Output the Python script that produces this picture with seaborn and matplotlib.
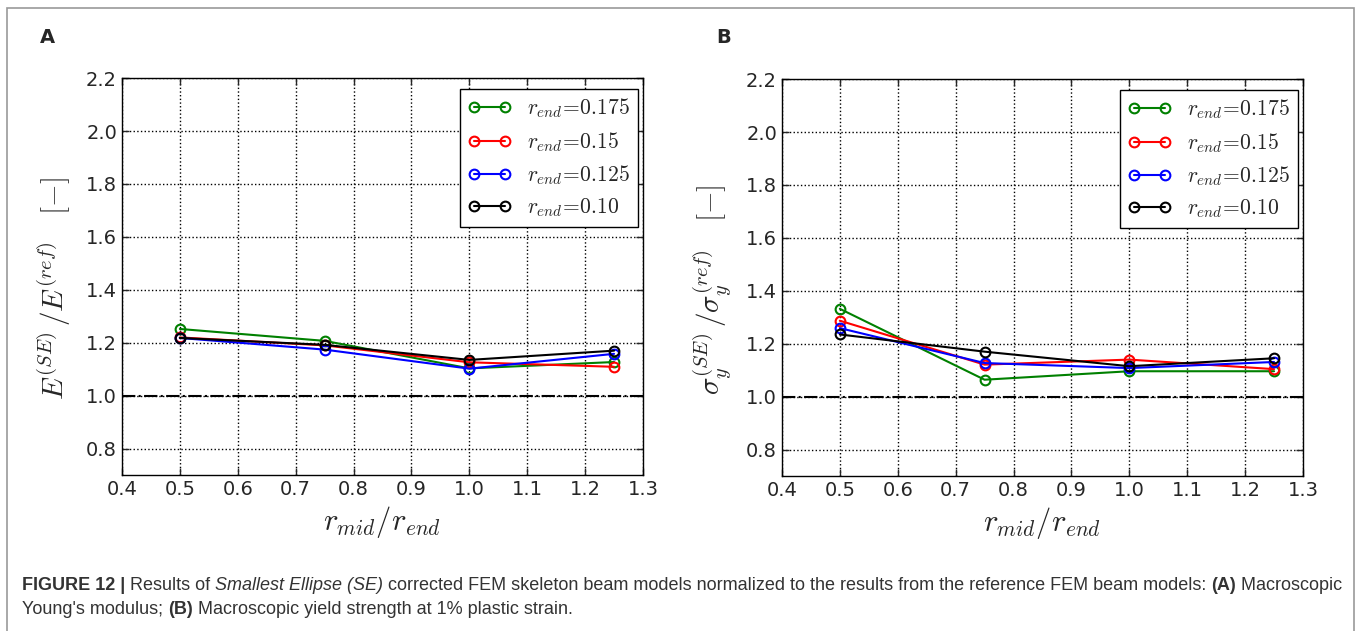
import seaborn as sns
import matplotlib.pyplot as plt
import matplotlib.patches as mpatches
import pandas as pd

sns.set_style('ticks')
plt.rcParams['font.family'] = ['DejaVu Sans']
plt.rcParams['mathtext.fontset'] = 'cm'

# data
r_ratio = [0.5, 0.75, 1.0, 1.25]
series_names = [r'$r_{end}\!=\!0.175$', r'$r_{end}\!=\!0.15$',
                r'$r_{end}\!=\!0.125$', r'$r_{end}\!=\!0.10$']
series_colors = ['green', 'red', 'blue', 'black']

E_175 = [1.252, 1.207, 1.103, 1.127]
E_150 = [1.220, 1.190, 1.126, 1.109]
E_125 = [1.218, 1.174, 1.102, 1.158]
E_100 = [1.218, 1.192, 1.135, 1.170]

S_175 = [1.332, 1.064, 1.096, 1.096]
S_150 = [1.287, 1.121, 1.140, 1.104]
S_125 = [1.259, 1.127, 1.108, 1.131]
S_100 = [1.235, 1.170, 1.115, 1.145]

panels = [
    ('A', [E_175, E_150, E_125, E_100], r'$E^{(SE)}\,/E^{(ref)}\quad[-]$'),
    ('B', [S_175, S_150, S_125, S_100], r'$\sigma_y^{(SE)}\,/\sigma_y^{(ref)}\quad[-]$'),
]

fig = plt.figure(figsize=(13.58, 6.31), dpi=100)
axes_pos = [[0.0898, 0.2472, 0.3837, 0.6290], [0.5758, 0.2456, 0.3837, 0.6290]]

for (letter, ys, ylab), pos, lx in zip(panels, axes_pos, [0.0295, 0.5275]):
    ax = fig.add_axes(pos)
    for vals, name, c in zip(ys, series_names, series_colors):
        df = pd.DataFrame({'x': r_ratio, 'y': vals})
        sns.lineplot(data=df, x='x', y='y', ax=ax, color=c, label=name, lw=1.5,
                     marker='o', markersize=7, markerfacecolor='none',
                     markeredgecolor=c, markeredgewidth=1.5)
    ax.axhline(1.0, color='black', ls='-.', lw=1.5)
    ax.set_xlim(0.4, 1.3)
    ax.set_ylim(0.7, 2.2)
    ax.set_xticks([0.4, 0.5, 0.6, 0.7, 0.8, 0.9, 1.0, 1.1, 1.2, 1.3])
    ax.set_yticks([0.8, 1.0, 1.2, 1.4, 1.6, 1.8, 2.0, 2.2])
    ax.grid(True, color='black', ls=':', lw=1)
    ax.tick_params(direction='in', top=True, right=True, labelsize=14, length=5, width=1)
    for s in ax.spines.values():
        s.set_color('black')
        s.set_linewidth(1)
    ax.set_xlabel(r'$r_{mid}/r_{end}$', fontsize=22, labelpad=4)
    ax.set_ylabel(ylab, fontsize=21)
    ax.yaxis.set_label_coords(-0.093, 0.47)
    leg = ax.legend(loc='upper right', bbox_to_anchor=(0.990, 0.972), borderaxespad=0,
                    numpoints=2, fontsize=15.5, fancybox=False, framealpha=1,
                    edgecolor='black', handlelength=2.05, handletextpad=0.72,
                    borderpad=0.35, labelspacing=0.45)
    leg.get_frame().set_linewidth(1)
    fig.text(lx, 0.94, letter, fontsize=14, fontweight='bold', va='center')

# outer frame of the figure panel
fig.patches.append(mpatches.Rectangle((7 / 1358, -0.05), 1347 / 1358, 1.05 - 8 / 631,
                                      transform=fig.transFigure, fill=False,
                                      edgecolor='#999999', lw=1.2))

# caption with mixed styles, written piece by piece
cap_font = ['Liberation Sans Narrow', 'Liberation Sans', 'DejaVu Sans']
cap_lines = [
    [('FIGURE 12 | ', 'bold', 'normal'), ('Results of ', 'normal', 'normal'),
     ('Smallest Ellipse (SE)', 'normal', 'italic'),
     (' corrected FEM skeleton beam models normalized to the results from the reference FEM beam models: ', 'normal', 'normal'),
     ('(A)', 'bold', 'normal'), (' Macroscopic', 'normal', 'normal')],
    [("Young's modulus; ", 'normal', 'normal'), ('(B)', 'bold', 'normal'),
     (' Macroscopic yield strength at 1% plastic strain.', 'normal', 'normal')],
]
fig.canvas.draw()
renderer = fig.canvas.get_renderer()
for line, yc in zip(cap_lines, [1 - 585 / 631, 1 - 609 / 631]):
    x = 22 / 1358
    for txt, w, st in line:
        t = fig.text(x, yc, txt, fontsize=13, fontweight=w, fontstyle=st,
                     family=cap_font, color='#333333', va='center')
        bb = t.get_window_extent(renderer)
        x += bb.width / fig.bbox.width

fig.savefig('out.png', dpi=100)
